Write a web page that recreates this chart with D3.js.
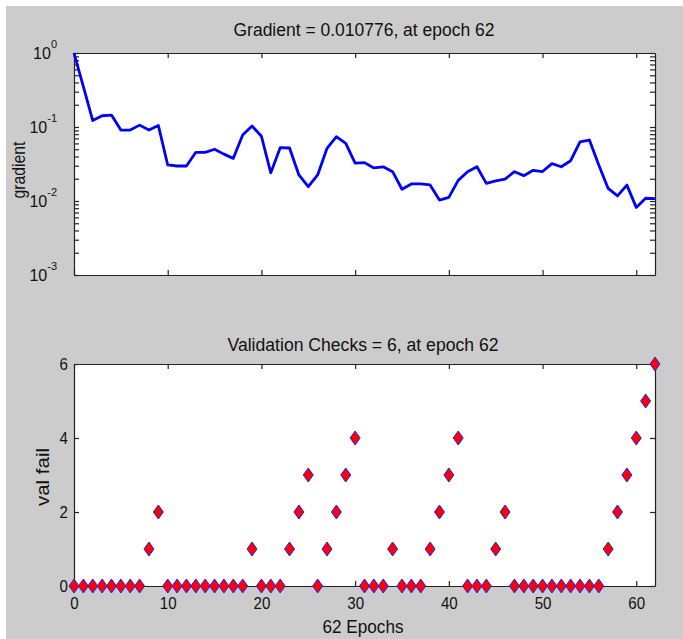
<html>
<head>
<script src="https://d3js.org/d3.v7.min.js"></script>
<style>
  body { margin: 0; background: #fff; }
  text { font-family: "Liberation Sans", Arial, sans-serif; fill: #111; }
</style>
</head>
<body>
<script>
// gradient per epoch, epochs 0..62
var gradient = [1.0, 0.35, 0.122, 0.142, 0.145, 0.091, 0.091, 0.106, 0.091, 0.105,
  0.0307, 0.0297, 0.0297, 0.0455, 0.0455, 0.050, 0.043, 0.0377, 0.078, 0.103,
  0.075, 0.024, 0.0526, 0.052, 0.0225, 0.0156, 0.0225, 0.0515, 0.074, 0.060,
  0.0324, 0.033, 0.028, 0.029, 0.0249, 0.0144, 0.017, 0.017, 0.0165, 0.0103,
  0.0112, 0.019, 0.0249, 0.029, 0.0173, 0.0187, 0.0198, 0.0249, 0.022, 0.026,
  0.025, 0.032, 0.029, 0.035, 0.063, 0.0667, 0.0306, 0.0148, 0.0117, 0.0164,
  0.0082, 0.0109, 0.010776];
var valFail = [0,0,0,0,0,0,0,0,1,2, 0,0,0,0,0,0,0,0,0,1, 0,0,0,1,2,3,0,1,2,3,
  4,0,0,0,1,0,0,0,1,2, 3,4,0,0,0,1,2,0,0,0, 0,0,0,0,0,0,0,1,2,3, 4,5,6];
var xTicks = [0, 10, 20, 30, 40, 50, 60];
var valTicks = [0, 2, 4, 6];
var logPowers = [0, -1, -2, -3];
var titleTop = "Gradient = 0.010776, at epoch 62";
var titleBottom = "Validation Checks = 6, at epoch 62";

var W = 683, H = 639;
var left = 74, right = 655;
var axisColor = "#222";

var svg = d3.select("body").append("svg")
  .attr("width", W).attr("height", H);
svg.append("rect").attr("x", 6).attr("y", 6)
  .attr("width", W - 6).attr("height", H - 6).attr("fill", "#cccccc");

var x = d3.scaleLinear().domain([0, 62]).range([left, right]);
var yG = d3.scaleLog().domain([1e-3, 1]).range([275, 53]);
var yV = d3.scaleLinear().domain([0, 6]).range([586, 364]);

function frame(top, bottom) {
  svg.append("rect").attr("x", left).attr("y", top)
    .attr("width", right - left).attr("height", bottom - top)
    .attr("fill", "#fff");
}

function styleAxis(g) {
  g.selectAll("path, line").attr("stroke", axisColor).attr("stroke-width", 1.2);
  g.selectAll("text").style("font-size", "17px").attr("fill", "#111");
}

// ---- top: gradient ----
frame(53, 275);

[[d3.axisBottom(x), "translate(0,275)"], [d3.axisTop(x), "translate(0,53)"]].forEach(function(a) {
  svg.append("g").attr("transform", a[1])
    .call(a[0].tickValues(xTicks).tickSize(-5).tickSizeOuter(0).tickFormat(""))
    .call(styleAxis);
});
[[d3.axisLeft(yG), "translate(" + left + ",0)"], [d3.axisRight(yG), "translate(" + right + ",0)"]].forEach(function(a) {
  svg.append("g").attr("transform", a[1])
    .call(a[0].tickValues(yG.ticks()).tickSize(-5).tickSizeOuter(0).tickFormat(""))
    .call(styleAxis);
});

// 10^n labels
var powLab = svg.append("g").selectAll("text").data(logPowers).enter().append("text")
  .attr("x", 57)
  .attr("y", function(d) { return yG(Math.pow(10, d)) + 5.5; })
  .attr("text-anchor", "end")
  .style("font-size", "16px");
powLab.append("tspan").text("10");
powLab.append("tspan").attr("dy", -11).style("font-size", "11px")
  .text(function(d) { return d === 0 ? "0" : String(d); });

var line = d3.line()
  .x(function(d, i) { return x(i); })
  .y(function(d) { return yG(d); });
svg.append("path").datum(gradient)
  .attr("d", line)
  .attr("fill", "none")
  .attr("stroke", "#0000ff")
  .attr("stroke-width", 2.8)
  .attr("stroke-linejoin", "round");

svg.append("text").attr("x", 364).attr("y", 36)
  .attr("text-anchor", "middle").style("font-size", "17.5px")
  .attr("textLength", 261).attr("lengthAdjust", "spacingAndGlyphs")
  .text(titleTop);
svg.append("text").attr("transform", "translate(25,170) rotate(-90)")
  .attr("text-anchor", "middle").style("font-size", "17.5px")
  .attr("textLength", 57).attr("lengthAdjust", "spacingAndGlyphs")
  .text("gradient");

// ---- bottom: validation checks ----
frame(364, 586);

svg.append("g").attr("transform", "translate(0,586)")
  .call(d3.axisBottom(x).tickValues(xTicks).tickSize(-5).tickSizeOuter(0).tickPadding(11)
    .tickFormat(d3.format("d")))
  .call(styleAxis)
  .selectAll("text")
  .attr("textLength", function(d) { return String(d).length * 8.4; })
  .attr("lengthAdjust", "spacingAndGlyphs");
svg.append("g").attr("transform", "translate(0,364)")
  .call(d3.axisTop(x).tickValues(xTicks).tickSize(-5).tickSizeOuter(0).tickFormat(""))
  .call(styleAxis);
svg.append("g").attr("transform", "translate(" + left + ",0)")
  .call(d3.axisLeft(yV).tickValues(valTicks).tickSize(-5).tickSizeOuter(0).tickPadding(6)
    .tickFormat(d3.format("d")))
  .call(styleAxis)
  .selectAll("text").attr("textLength", 8.4).attr("lengthAdjust", "spacingAndGlyphs");
svg.append("g").attr("transform", "translate(" + right + ",0)")
  .call(d3.axisRight(yV).tickValues(valTicks).tickSize(-5).tickSizeOuter(0).tickFormat(""))
  .call(styleAxis);

svg.append("g").selectAll("path").data(valFail).enter().append("path")
  .attr("d", "M0,-7L5,0L0,7L-5,0Z")
  .attr("transform", function(d, i) { return "translate(" + x(i) + "," + yV(d) + ")"; })
  .attr("fill", "#ff0000")
  .attr("stroke", "#2020ff")
  .attr("stroke-width", 1);

svg.append("text").attr("x", 363).attr("y", 350.5)
  .attr("text-anchor", "middle").style("font-size", "17.5px")
  .attr("textLength", 271).attr("lengthAdjust", "spacingAndGlyphs")
  .text(titleBottom);
svg.append("text").attr("transform", "translate(49,477) rotate(-90)")
  .attr("text-anchor", "middle").style("font-size", "17.5px")
  .attr("textLength", 58).attr("lengthAdjust", "spacingAndGlyphs")
  .text("val fail");
svg.append("text").attr("x", 363).attr("y", 633)
  .attr("text-anchor", "middle").style("font-size", "17.5px")
  .attr("textLength", 81).attr("lengthAdjust", "spacingAndGlyphs")
  .text("62 Epochs");
</script>
</body>
</html>
